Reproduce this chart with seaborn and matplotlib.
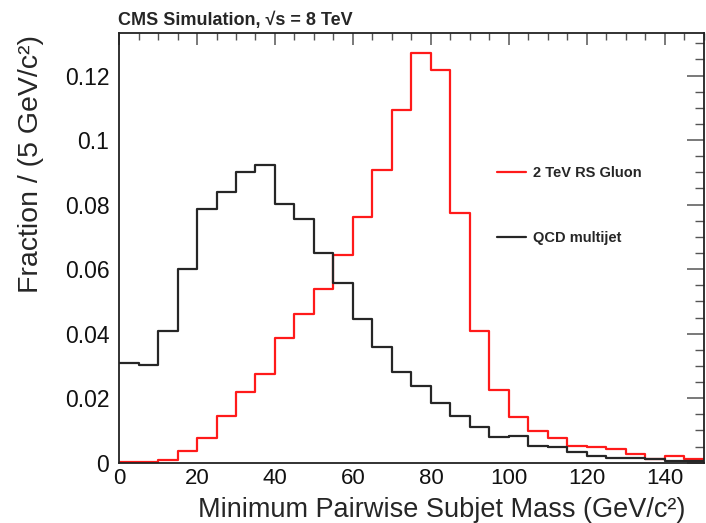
import numpy as np
import pandas as pd
import matplotlib
matplotlib.use("Agg")
import matplotlib.pyplot as plt
import seaborn as sns
from matplotlib.lines import Line2D
from matplotlib.ticker import MultipleLocator, FuncFormatter

# ---- data (fraction per 5 GeV bin, 0-150 GeV) ----
bin_edges = list(range(0, 155, 5))
qcd_fraction = [0.0308, 0.0304, 0.0409, 0.0600, 0.0786, 0.0838, 0.0900, 0.0924,
                0.0802, 0.0756, 0.0651, 0.0558, 0.0445, 0.0360, 0.0282, 0.0239,
                0.0184, 0.0145, 0.0112, 0.0080, 0.0082, 0.0052, 0.0048, 0.0034,
                0.0022, 0.0016, 0.0014, 0.0010, 0.0006, 0.0005]
gluon_fraction = [0.0002, 0.0003, 0.0008, 0.0036, 0.0078, 0.0145, 0.0220, 0.0275,
                  0.0388, 0.0462, 0.0539, 0.0644, 0.0763, 0.0908, 0.1094, 0.1270,
                  0.1216, 0.0775, 0.0409, 0.0226, 0.0141, 0.0098, 0.0076, 0.0052,
                  0.0048, 0.0042, 0.0027, 0.0011, 0.0021, 0.0012]
sample_names = ["2 TeV RS Gluon", "QCD multijet"]
sample_colors = ["#ff1a1a", "#262626"]
x_ticks = [0, 20, 40, 60, 80, 100, 120, 140]
y_ticks = [0, 0.02, 0.04, 0.06, 0.08, 0.1, 0.12]

centers = [(a + b) / 2 for a, b in zip(bin_edges[:-1], bin_edges[1:])]
df = pd.DataFrame({
    "mass": centers * 2,
    "fraction": gluon_fraction + qcd_fraction,
    "sample": [sample_names[0]] * len(centers) + [sample_names[1]] * len(centers),
})

sns.set_style("white")
plt.rcParams["font.family"] = ["Liberation Sans", "DejaVu Sans"]

fig = plt.figure(figsize=(7.06, 5.23), dpi=100)
ax = fig.add_axes([0.1686, 0.1153, 0.8284, 0.8222])

for name, col in zip(sample_names, sample_colors):
    sub = df[df["sample"] == name]
    sns.histplot(data=sub, x="mass", weights="fraction", bins=bin_edges,
                 element="step", fill=False, color=col, linewidth=1.6, ax=ax)

ax.set_xlim(0, 150)
ax.set_ylim(0, 0.1333)
ax.set_xticks(x_ticks)
ax.set_yticks(y_ticks)
ax.xaxis.set_minor_locator(MultipleLocator(5))
ax.yaxis.set_minor_locator(MultipleLocator(0.005))
ax.yaxis.set_major_formatter(FuncFormatter(lambda v, p: f"{v:g}"))

ax.tick_params(axis="both", which="both", direction="in", top=True, right=True,
               color="#555555", labelsize=16.5, labelcolor="#111111")
ax.tick_params(axis="x", labelsize=16)
ax.tick_params(axis="y", which="major", length=12, width=1.1, pad=7)
ax.tick_params(axis="y", which="minor", length=6.5, width=1.0)
ax.tick_params(axis="x", which="major", length=8.6, width=1.1, pad=4)
ax.tick_params(axis="x", which="minor", length=5, width=1.0)
for s in ax.spines.values():
    s.set_color("#222222")
    s.set_linewidth(1.3)

ax.set_xlabel("Minimum Pairwise Subjet Mass (GeV/c²)", fontsize=19.5)
ax.xaxis.label.set_ha("right")
ax.xaxis.label.set_va("baseline")
ax.xaxis.set_label_coords(0.968, -0.1265)
ax.set_ylabel("Fraction / (5 GeV/c²)", fontsize=20.5)
ax.yaxis.label.set_ha("right")
ax.yaxis.label.set_va("center")
ax.yaxis.set_label_coords(-0.150, 0.995)

handles = [Line2D([], [], color=c, linewidth=1.6) for c in sample_colors]
ax.legend(handles, sample_names, loc="upper left", bbox_to_anchor=(0.623, 0.72),
          frameon=False, prop={"weight": "bold", "size": 10.5},
          handlelength=2.05, labelspacing=3.5, handletextpad=0.45)

fig.text(0.167, 0.961, "CMS Simulation, √s = 8 TeV", fontsize=13,
         fontweight="bold", ha="left", va="center")

fig.savefig("out.png", dpi=100)
